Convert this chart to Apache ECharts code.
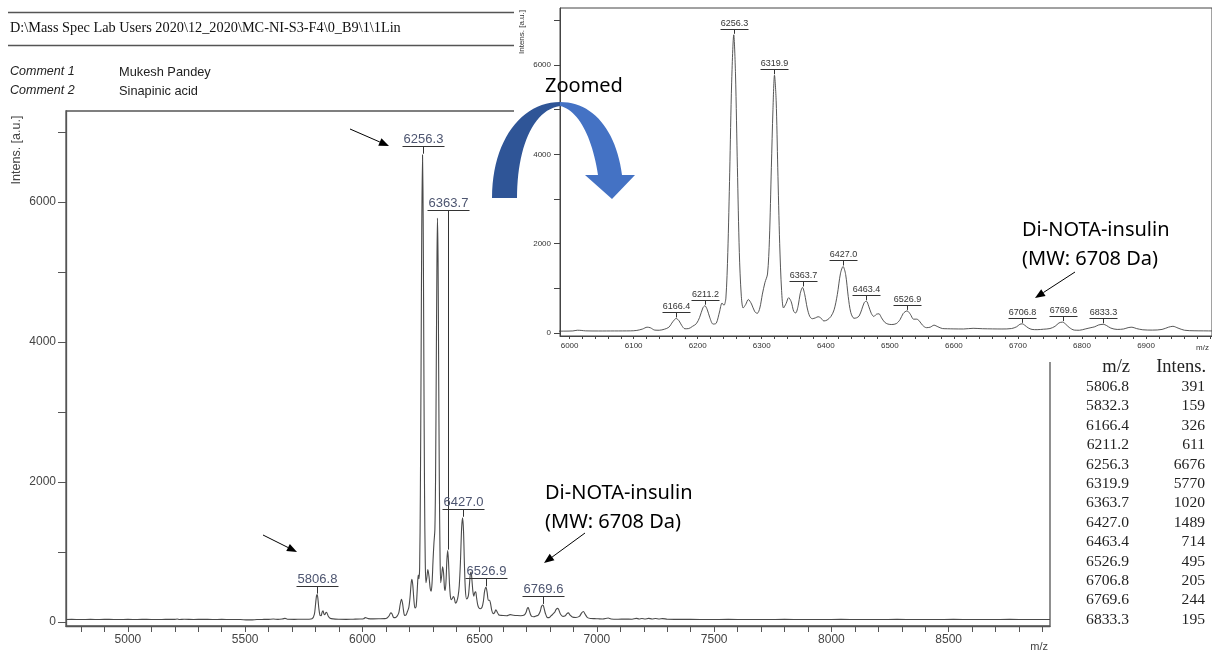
<!DOCTYPE html>
<html><head><meta charset="utf-8">
<script src="https://cdn.jsdelivr.net/npm/echarts@6/dist/echarts.min.js"></script>
<style>html,body{margin:0;padding:0;background:#fff}#c{width:1212px;height:654px}</style>
</head><body><div id="c"></div>
<script>
// ---- data ----
const spectrumMz = [4736,4760,4800,4840,4880,4920,4960,5000,5040,5080,5120,5160,5200,5210,5220,5240,5280,5320,5360,5400,5440,5480,5510,5530,5550,5580,5600,5620,5640,5660,5670,5680,5710,5740,5770,5785,5795,5800,5804,5807,5810,5814,5819,5824,5828,5832,5836,5840,5845,5849,5854,5862,5875,5900,5930,5960,5990,6005,6012,6018,6025,6045,6070,6095,6105,6114,6121,6126,6133,6140,6148,6155,6161,6166.4,6171,6175,6180,6186,6192,6198,6203,6208,6211.2,6215,6219,6224,6229,6234,6238,6241,6244,6247,6250,6253,6256.3,6259,6262,6265,6268,6271,6275,6279,6284,6289,6293,6297,6301,6305,6309,6312,6315,6317.5,6319.9,6322.5,6325,6328,6331,6334,6338,6342,6346,6350,6353,6357,6360,6363.7,6367,6371,6375,6379,6384,6388,6392,6397,6402,6408,6413,6418,6423,6427,6431,6435,6439,6444,6448,6452,6456,6460,6463.4,6467,6471,6475,6479,6483,6487,6492,6497,6503,6510,6516,6521,6526.9,6532,6537,6542,6546,6551,6557,6563,6569,6575,6582,6590,6600,6615,6630,6645,6660,6675,6690,6698,6703,6706.8,6711,6716,6722,6730,6740,6750,6758,6764,6769.6,6774,6780,6788,6796,6805,6814,6820,6826,6833.3,6838,6845,6855,6865,6872,6878,6885,6895,6910,6925,6935,6942,6950,6960,6975,6990,7005,7025,7048,7060,7090,7120,7150,7168,7180,7192,7205,7220,7235,7250,7265,7280,7300,7340,7400,7480,7560,7640,7720,7800,7880,7960,8040,8120,8200,8280,8360,8440,8520,8600,8680,8760,8840,8932];
const spectrumIntensity = [36,38,35,37,36,38,35,37,36,38,35,37,38,42,36,40,36,38,36,37,36,35,30,31,35,37,38,42,38,45,52,40,38,39,40,45,110,250,370,391,340,200,95,90,140,159,115,105,140,130,85,55,45,40,38,40,42,46,62,58,48,45,46,48,58,90,130,118,65,62,85,130,250,326,270,170,95,100,150,210,350,560,611,520,340,200,220,470,670,620,780,1800,3600,5600,6676,5800,3700,1800,850,560,640,750,650,480,440,560,870,1130,1320,2100,3700,5000,5770,5200,3700,2000,950,560,660,790,700,480,450,620,880,1020,870,560,370,320,340,365,340,270,290,370,520,860,1340,1489,1310,820,460,330,340,380,520,680,714,600,440,370,420,430,340,240,200,190,210,300,440,495,420,310,310,270,175,120,130,175,140,100,95,92,90,105,96,92,90,100,140,195,205,170,115,80,75,85,100,150,225,244,205,125,65,62,90,120,140,180,195,170,110,80,90,120,130,100,72,65,80,130,150,110,62,50,48,46,44,58,44,40,41,40,52,44,50,43,52,44,50,44,49,40,38,37,36,37,35,36,37,35,36,37,35,36,37,35,36,37,35,36,37,35,36];

const tableMz = ['5806.8','5832.3','6166.4','6211.2','6256.3','6319.9','6363.7','6427.0','6463.4','6526.9','6706.8','6769.6','6833.3'];
const tableIntensity = [391,159,326,611,6676,5770,1020,1489,714,495,205,244,195];

const mainLabelMz = ['5806.8','6256.3','6363.7','6427.0','6526.9','6769.6'];
const insetLabelMz = ['6166.4','6211.2','6256.3','6319.9','6363.7','6427.0','6463.4','6526.9','6706.8','6769.6','6833.3'];

const mainXTickLabels = [5000,5500,6000,6500,7000,7500,8000,8500];
const mainYTickLabels = [0,2000,4000,6000];
const insetXTickLabels = [6000,6100,6200,6300,6400,6500,6600,6700,6800,6900];
const insetYTickLabels = [0,2000,4000,6000];

// ---- layout ----
const mainLabelLevel = {'6363.7': 5890}; // label lifted above the neighbouring peak
function range(a, b, s){ const r=[]; for(let v=a; v<=b+1e-9; v+=s) r.push(v); return r; }
const mainXTicks = range(4800, 8900, 100);
const mainYTicks = range(0, 7000, 1000);
const insetXTicks = range(6000, 7000, 20);
const insetYTicks = range(0, 7000, 1000);
const plain = v => String(v);

const spectrum = spectrumMz.map((m,i)=>[m, spectrumIntensity[i]]);
function peakOf(s){ return tableIntensity[tableMz.indexOf(s)]; }
const mainPeaks = mainLabelMz.map(s=>[parseFloat(s), peakOf(s), mainLabelLevel[s] || peakOf(s)]);
const insetPeaks = insetLabelMz.map(s=>[parseFloat(s), peakOf(s), peakOf(s)]);

function peakLabelRenderer(o){
  return function(params, api){
    const mz = api.value(0), h = api.value(1), lvl = api.value(2);
    const p = api.coord([mz, h]);
    let uy = (lvl > h) ? api.coord([mz, lvl])[1] : p[1] - o.gap;
    uy = Math.round(uy) + 0.5;
    const x = Math.round(p[0]) + 0.5;
    return {type:'group', children:[
      {type:'line', shape:{x1:x, y1:uy, x2:x, y2:p[1]-1}, style:{stroke:o.line, lineWidth:1}},
      {type:'line', shape:{x1:x-o.half, y1:uy, x2:x+o.half, y2:uy}, style:{stroke:o.line, lineWidth:1}},
      {type:'text', x:x, y:uy-1, style:{text: mz.toFixed(1), fill:o.color, font:o.font, textAlign:'center', textVerticalAlign:'bottom'}}
    ]};
  };
}

function arrow(x1,y1,x2,y2,z){
  const a = Math.atan2(y2-y1, x2-x1), L = 10, W = 4;
  const bx = x2 - L*Math.cos(a), by = y2 - L*Math.sin(a);
  const nx = -Math.sin(a)*W, ny = Math.cos(a)*W;
  return [
    {type:'line', z:z, shape:{x1:x1,y1:y1,x2:bx,y2:by}, style:{stroke:'#000', lineWidth:1}},
    {type:'polygon', z:z, shape:{points:[[x2,y2],[bx+nx,by+ny],[bx-nx,by-ny]]}, style:{fill:'#000'}}
  ];
}
function bez(p0,c1,c2,p1,n){
  const pts=[];
  for(let i=0;i<=n;i++){
    const t=i/n, u=1-t;
    pts.push([u*u*u*p0[0]+3*u*u*t*c1[0]+3*u*t*t*c2[0]+t*t*t*p1[0],
              u*u*u*p0[1]+3*u*u*t*c1[1]+3*u*t*t*c2[1]+t*t*t*p1[1]]);
  }
  return pts;
}
const darkBand = [].concat(
  bez([492,198],[492,140],[522,102],[560,102],24),
  bez([560,106],[532,110],[517,150],[517,198],24)
);
const lightBand = [].concat(
  bez([560,102],[593,102],[616,130],[622,175],24),
  [[635,175],[612,199],[585,175]],
  bez([598,175],[592,136],[578,110],[560,106],24)
);

const serif = '"Liberation Serif","Times New Roman",serif';
const sans = '"Liberation Sans",Arial,sans-serif';
const callout = '"Noto Sans","Open Sans",sans-serif';

const graphics = [
  {type:'line', shape:{x1:8,y1:12.5,x2:514,y2:12.5}, style:{stroke:'#555', lineWidth:1.5}},
  {type:'line', shape:{x1:8,y1:45.5,x2:514,y2:45.5}, style:{stroke:'#555', lineWidth:1.5}},
  {type:'text', x:10, y:28, style:{text:'D:\\Mass Spec Lab Users 2020\\12_2020\\MC-NI-S3-F4\\0_B9\\1\\1Lin', font:'14.3px '+serif, fill:'#111', textVerticalAlign:'middle'}},
  {type:'text', x:10, y:72, style:{text:'Comment 1', font:'italic 12.5px '+sans, fill:'#222', textVerticalAlign:'middle'}},
  {type:'text', x:119, y:72, style:{text:'Mukesh Pandey', font:'12.8px '+sans, fill:'#222', textVerticalAlign:'middle'}},
  {type:'text', x:10, y:91, style:{text:'Comment 2', font:'italic 12.5px '+sans, fill:'#222', textVerticalAlign:'middle'}},
  {type:'text', x:119, y:91, style:{text:'Sinapinic acid', font:'12.8px '+sans, fill:'#222', textVerticalAlign:'middle'}},
  {type:'text', x:17, y:150, rotation:Math.PI/2, style:{text:'Intens. [a.u.]', font:'12.5px '+sans, fill:'#444', textAlign:'center', textVerticalAlign:'middle'}},
  {type:'rect', z:3, shape:{x:514, y:0, width:698, height:362}, style:{fill:'#fff'}},
  {type:'text', z:10, x:522, y:32, rotation:Math.PI/2, style:{text:'Intens. [a.u.]', font:'8px '+sans, fill:'#333', textAlign:'center', textVerticalAlign:'middle'}},
  {type:'text', z:10, x:1130, y:367, style:{text:'m/z', font:'18.5px '+serif, fill:'#222', textAlign:'right', textVerticalAlign:'middle'}},
  {type:'text', z:10, x:1206, y:367, style:{text:'Intens.', font:'18.5px '+serif, fill:'#222', textAlign:'right', textVerticalAlign:'middle'}}
];
tableMz.forEach((m,i)=>{
  const y = 387 + i*19.4;
  graphics.push({type:'text', z:10, x:1129, y:y, style:{text:m, font:'15.6px '+serif, fill:'#222', textAlign:'right', textVerticalAlign:'middle'}});
  graphics.push({type:'text', z:10, x:1205, y:y, style:{text:String(tableIntensity[i]), font:'15.6px '+serif, fill:'#222', textAlign:'right', textVerticalAlign:'middle'}});
});
graphics.push(
  {type:'text', z:20, x:545, y:86, style:{text:'Zoomed', font:'20px '+callout, fill:'#000', textVerticalAlign:'middle'}},
  {type:'text', z:20, x:545, y:493, style:{text:'Di-NOTA-insulin', font:'20px '+callout, fill:'#000', textVerticalAlign:'middle'}},
  {type:'text', z:20, x:545, y:522, style:{text:'(MW: 6708 Da)', font:'20px '+callout, fill:'#000', textVerticalAlign:'middle'}},
  {type:'text', z:20, x:1022, y:230, style:{text:'Di-NOTA-insulin', font:'20px '+callout, fill:'#000', textVerticalAlign:'middle'}},
  {type:'text', z:20, x:1022, y:259, style:{text:'(MW: 6708 Da)', font:'20px '+callout, fill:'#000', textVerticalAlign:'middle'}},
  {type:'polygon', z:20, shape:{points:darkBand}, style:{fill:'#2f5597'}},
  {type:'polygon', z:20, shape:{points:lightBand}, style:{fill:'#4472c4'}}
);
graphics.push(...arrow(350,129,389,146,20));
graphics.push(...arrow(263,535,297,552,20));
graphics.push(...arrow(585,533,544,563,20));
graphics.push(...arrow(1075,272,1035,298,20));

const option = {
  animation:false,
  backgroundColor:'#fff',
  grid:[
    {left:66, top:111, width:984, height:515, show:true, borderColor:'#555', borderWidth:1.3, backgroundColor:'transparent'},
    {left:560, top:8, width:652, height:328, show:true, borderColor:'#444', borderWidth:1, backgroundColor:'#fff', z:4}
  ],
  xAxis:[
    {type:'value', gridIndex:0, min:4736, max:8932,
     name:'m/z', nameLocation:'end', nameGap:-2, nameTextStyle:{align:'right', verticalAlign:'top', padding:[15,0,0,0], fontSize:11, color:'#444', fontFamily:sans},
     axisLine:{show:true, onZero:false, lineStyle:{color:'#555', width:1.3}},
     axisTick:{show:true, customValues:mainXTicks, length:6, lineStyle:{color:'#555'}},
     axisLabel:{customValues:mainXTickLabels, formatter:plain, fontSize:12, color:'#444', margin:8, fontFamily:sans},
     splitLine:{show:false}},
    {type:'value', gridIndex:1, min:5985, max:7003, z:5,
     name:'m/z', nameLocation:'end', nameGap:-3, nameTextStyle:{align:'right', verticalAlign:'top', padding:[8,0,0,0], fontSize:8, color:'#333', fontFamily:sans},
     axisLine:{show:true, onZero:false, lineStyle:{color:'#444', width:1}},
     axisTick:{show:true, customValues:insetXTicks, length:3, lineStyle:{color:'#444'}},
     axisLabel:{customValues:insetXTickLabels, formatter:plain, fontSize:8, color:'#333', margin:6, fontFamily:sans},
     splitLine:{show:false}}
  ],
  yAxis:[
    {type:'value', gridIndex:0, min:-57, max:7300,
     axisLine:{show:true, onZero:false, lineStyle:{color:'#555', width:1.3}},
     axisTick:{show:true, customValues:mainYTicks, length:8, lineStyle:{color:'#555'}},
     axisLabel:{customValues:mainYTickLabels, formatter:plain, fontSize:12, color:'#444', margin:10, fontFamily:sans},
     splitLine:{show:false}},
    {type:'value', gridIndex:1, min:-67, max:7276, z:5,
     axisLine:{show:true, onZero:false, lineStyle:{color:'#444', width:1}},
     axisTick:{show:true, customValues:insetYTicks, length:6, lineStyle:{color:'#444'}},
     axisLabel:{customValues:insetYTickLabels, formatter:plain, fontSize:8, color:'#333', margin:9, fontFamily:sans},
     splitLine:{show:false}}
  ],
  series:[
    {type:'line', xAxisIndex:0, yAxisIndex:0, data:spectrum, symbol:'none', smooth:0.3, z:1,
     lineStyle:{color:'#4a4a4a', width:1.1}},
    {type:'custom', xAxisIndex:0, yAxisIndex:0, data:mainPeaks, z:2, clip:false,
     renderItem:peakLabelRenderer({gap:9, half:21, font:'13px '+sans, color:'#4d5570', line:'#333'})},
    {type:'line', xAxisIndex:1, yAxisIndex:1, data:spectrum, symbol:'none', smooth:0.3, z:6, clip:true,
     lineStyle:{color:'#444', width:0.9}},
    {type:'custom', xAxisIndex:1, yAxisIndex:1, data:insetPeaks, z:7, clip:false,
     renderItem:peakLabelRenderer({gap:6, half:14, font:'9px '+sans, color:'#333', line:'#333'})}
  ],
  graphic:{elements:graphics}
};
const chart = echarts.init(document.getElementById('c'));
chart.setOption(option);
</script>
</body></html>
